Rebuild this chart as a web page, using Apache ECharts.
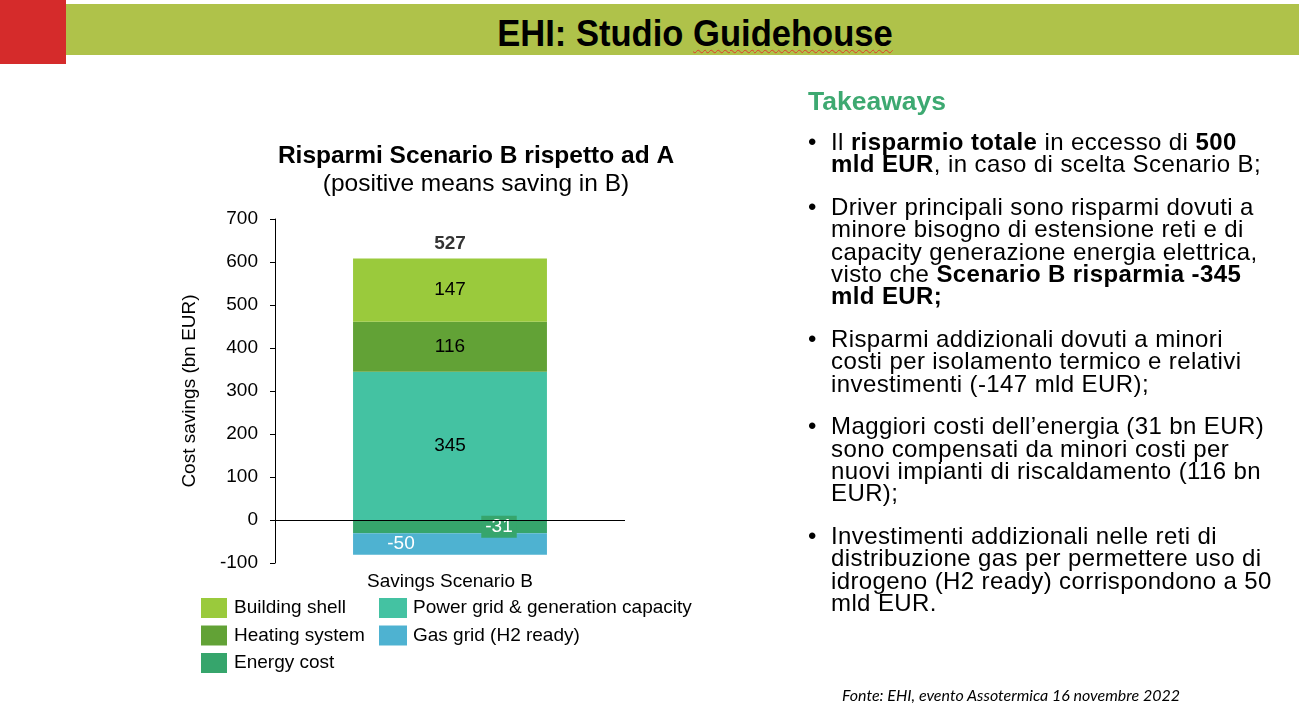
<!DOCTYPE html>
<html>
<head>
<meta charset="utf-8">
<script src="https://cdn.jsdelivr.net/npm/echarts@6/dist/echarts.min.js"></script>
<style>
  html, body { margin: 0; padding: 0; background: #fff; }
  body { width: 1299px; height: 712px; position: relative; overflow: hidden;
         font-family: 'Liberation Sans', Arial, sans-serif; color: #000; }
  #chart { position: absolute; left: 0; top: 0; width: 1299px; height: 712px; }
  .red { position: absolute; left: 0; top: 0; width: 66px; height: 64px; background: #D52B2B; }
  .band { position: absolute; left: 66px; top: 4px; right: 0; height: 51px; background: #AFC24A; }
  .head { position: absolute; left: 695px; top: 16px; font-size: 36px; line-height: 36px; font-weight: bold;
          white-space: nowrap; transform: translateX(-50%) scaleX(0.96); }
  .wavy { text-decoration: underline wavy #E03A2A; text-decoration-thickness: 1px; text-underline-offset: 3px; }
  .take { position: absolute; left: 808px; top: 86px; font-size: 26.5px; font-weight: bold; color: #3DA971; }
  .notes { position: absolute; left: 808px; top: 131px; font-size: 24px; letter-spacing: 0.4px;
           line-height: 22.3px; white-space: nowrap; }
  .notes p { margin: 0 0 20.5px 0; padding-left: 23px; position: relative; }
  .notes p::before { content: '\2022'; position: absolute; left: 0; top: 0; letter-spacing: 0; }
  .src { position: absolute; left: 1011px; top: 685px; transform: translateX(-50%); font-family: Lato, 'Open Sans', sans-serif;
         font-style: italic; font-size: 16px; white-space: nowrap; }
</style>
</head>
<body>
<div id="chart"></div>
<div class="red"></div>
<div class="band"></div>
<div class="head">EHI: Studio <span class="wavy">Guidehouse</span></div>
<div class="take">Takeaways</div>
<div class="notes">
  <p>Il <b>risparmio totale</b> in eccesso di <b>500</b><br><b>mld EUR</b>, in caso di scelta Scenario B;</p>
  <p>Driver principali sono risparmi dovuti a<br>minore bisogno di estensione reti e di<br>capacity generazione energia elettrica,<br>visto che <b>Scenario B risparmia -345</b><br><b>mld EUR;</b></p>
  <p>Risparmi addizionali dovuti a minori<br>costi per isolamento termico e relativi<br>investimenti (-147 mld EUR);</p>
  <p>Maggiori costi dell’energia (31 bn EUR)<br>sono compensati da minori costi per<br>nuovi impianti di riscaldamento (116 bn<br>EUR);</p>
  <p>Investimenti addizionali nelle reti di<br>distribuzione gas per permettere uso di<br>idrogeno (H2 ready) corrispondono a 50<br>mld EUR.</p>
</div>
<div class="src">Fonte: EHI, evento Assotermica 16 novembre 2022</div>

<script>
// dati (bn EUR)
const categories = ['Savings Scenario B'];
const powerGrid = [345];
const heatingSystem = [116];
const buildingShell = [147];
const energyCost = [-31];
const gasGrid = [-50];

const yMin = -100, yMax = 700, yStep = 100;

const FONT = "'Liberation Sans', Arial, sans-serif";
const colors = {
  building: '#9ACA3C',
  heating: '#62A236',
  energy: '#36A56C',
  power: '#44C2A2',
  gas: '#4EB2D1'
};

// totale netto e altezza della pila positiva
const posTop = categories.map((c, i) => powerGrid[i] + heatingSystem[i] + buildingShell[i]);
const netTotal = categories.map((c, i) =>
  powerGrid[i] + heatingSystem[i] + buildingShell[i] + energyCost[i] + gasGrid[i]);

const chart = echarts.init(document.getElementById('chart'));

const inLabel = { show: true, position: 'inside', color: '#000', fontSize: 19, fontFamily: FONT };

const option = {
  animation: false,
  textStyle: { fontFamily: FONT },
  title: {
    text: 'Risparmi Scenario B rispetto ad A',
    subtext: '(positive means saving in B)',
    left: 471, top: 139, textAlign: 'center', itemGap: 3,
    textStyle: { fontSize: 24.5, fontWeight: 'bold', color: '#000', fontFamily: FONT },
    subtextStyle: { fontSize: 24.5, color: '#000', fontFamily: FONT }
  },
  legend: [
    {
      data: ['Building shell', 'Heating system', 'Energy cost'],
      orient: 'vertical', left: 201, top: 598, padding: 0,
      itemWidth: 26, itemHeight: 20, itemGap: 7.5, icon: 'rect',
      textStyle: { fontSize: 19, color: '#000', fontFamily: FONT, padding: [0, 0, 0, 2] }
    },
    {
      data: ['Power grid & generation capacity', 'Gas grid (H2 ready)'],
      orient: 'vertical', left: 379, top: 598, padding: 0,
      itemWidth: 28, itemHeight: 20, itemGap: 7.5, icon: 'rect',
      textStyle: { fontSize: 19, color: '#000', fontFamily: FONT, padding: [0, 0, 0, 1] }
    }
  ],
  grid: { left: 275, right: 674, top: 219, bottom: 149, containLabel: false },
  xAxis: {
    type: 'category',
    data: categories,
    axisLine: { show: false },
    axisTick: { show: false },
    axisLabel: { fontSize: 19, color: '#000', margin: 9, fontFamily: FONT }
  },
  yAxis: {
    type: 'value',
    min: yMin, max: yMax, interval: yStep,
    name: 'Cost savings (bn EUR)',
    nameLocation: 'middle', nameRotate: 90, nameGap: 76,
    nameTextStyle: { fontSize: 19, color: '#000', fontFamily: FONT },
    axisLine: { show: true, lineStyle: { color: '#000', width: 1 } },
    axisTick: { show: true, length: 5, lineStyle: { color: '#000' } },
    axisLabel: { fontSize: 19, color: '#000', margin: 17, fontFamily: FONT },
    splitLine: { show: false }
  },
  series: [
    { name: 'Power grid & generation capacity', type: 'bar', stack: 's', data: powerGrid, barWidth: '55.4%',
      itemStyle: { color: colors.power }, label: inLabel },
    { name: 'Heating system', type: 'bar', stack: 's', data: heatingSystem,
      itemStyle: { color: colors.heating }, label: inLabel },
    { name: 'Building shell', type: 'bar', stack: 's', data: buildingShell,
      itemStyle: { color: colors.building }, label: inLabel },
    { name: 'Energy cost', type: 'bar', stack: 's', data: energyCost,
      itemStyle: { color: colors.energy },
      label: { show: true, position: 'inside', color: '#fff', fontSize: 19, fontFamily: FONT,
               backgroundColor: colors.energy, padding: [2, 4, 1, 4], offset: [49, 0] } },
    { name: 'Gas grid (H2 ready)', type: 'bar', stack: 's', data: gasGrid,
      itemStyle: { color: colors.gas },
      label: { show: true, position: 'inside', color: '#fff', fontSize: 19, fontFamily: FONT, offset: [-49, 0] } },
    { name: 'totale', type: 'scatter', data: posTop, symbolSize: 0, silent: true,
      label: { show: true, position: 'top', distance: 5, fontSize: 19, fontWeight: 'bold', color: '#000',
               fontFamily: FONT, formatter: p => netTotal[p.dataIndex] },
      markLine: { silent: true, symbol: ['none', 'none'], label: { show: false },
                  lineStyle: { color: '#000', width: 1, type: 'solid' }, data: [{ yAxis: 0 }] } }
  ]
};

chart.setOption(option);
</script>
</body>
</html>
